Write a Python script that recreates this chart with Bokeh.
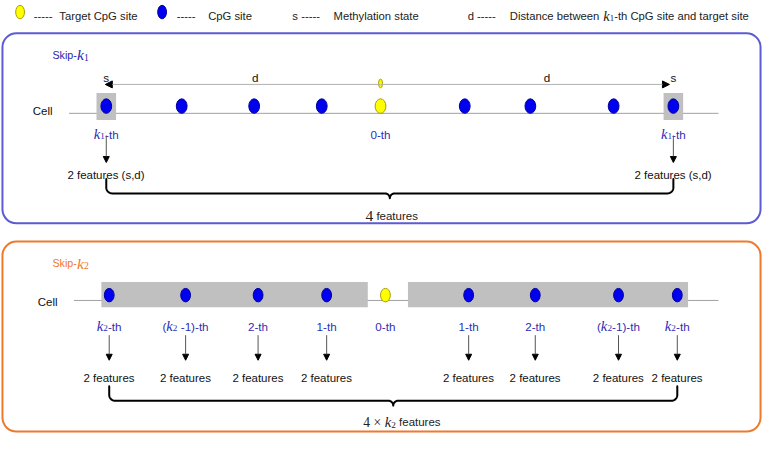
import re
import numpy as np
from bokeh.plotting import figure
from bokeh.models import Range1d, Arrow, NormalHead, ColumnDataSource
from bokeh.core.properties import value
from bokeh.embed import file_html
from bokeh.resources import INLINE

# ---------------- data ----------------
legend_keys = ["-----", "-----", "s -----", "d -----"]
legend_texts = ["Target CpG site", "CpG site", "Methylation state",
                "Distance between {k1}-th CpG site and target site"]

# skip-k1 panel: relative positions of the CpG sites (target site = 0)
k1_site_offsets = [-280, -203, -129, -60, 0, 86, 153, 238, 299]
k1_site_labels = ["{k1}-th", "", "", "", "0-th", "", "", "", "{k1}-th"]
k1_selected = [True, False, False, False, False, False, False, False, True]
k1_site_features = "2 features (s,d)"
k1_total_math = "4"
k1_total_text = "features"

# skip-k2 panel
k2_site_offsets = [-282, -204, -130, -60, 0, 85, 153, 238, 298]
k2_site_labels = ["{k2}-th", "({k2} -1)-th", "2-th", "1-th", "0-th",
                  "1-th", "2-th", "({k2}-1)-th", "{k2}-th"]
k2_site_features = "2 features"
k2_total_math = "4 × {k2}"
k2_total_text = "features"

# ---------------- styles ----------------
SANS = "Liberation Sans"
SERIF = "Liberation Serif"
BLUE_BORDER = "#5b5bd3"
ORANGE = "#ee7a2d"
LABEL_BLUE = "#2d2db4"
DOT_BLUE = "#0000f0"
DOT_BLUE_LINE = "#00009a"
YELLOW = "#ffff00"
YELLOW_LINE = "#a89e00"
GREY_BOX = "#c0c0c0"

REF_W, REF_H = 778, 450
W, H = 762, 434
FS = (W / REF_W + H / REF_H) / 2

p = figure(width=W, height=H, x_range=Range1d(0, REF_W), y_range=Range1d(REF_H, 0),
           output_backend="svg", toolbar_location=None, min_border=0,
           x_axis_location=None, y_axis_location=None)
p.grid.visible = False
p.outline_line_color = None
p.background_fill_color = "white"
p.border_fill_color = "white"

# ---------------- text helpers ----------------
ARIAL = {' ': .278, '-': .333, 't': .278, 'h': .556, '(': .333, ')': .333, 'f': .278,
         'e': .556, 'a': .556, 'u': .556, 'r': .333, 's': .5, 'D': .722, 'i': .222,
         'n': .556, 'c': .5, 'b': .556, 'w': .722, 'C': .722, 'p': .556, 'G': .778,
         'g': .556, 'd': .556, ',': .278, 'S': .667, 'k': .5, 'l': .222, 'M': .833,
         'y': .5, 'o': .556, 'T': .611}
TIMES = {' ': .25, '×': .564, 'k': .444}


def char_w(c, font):
    if font == SANS:
        return ARIAL.get(c, .556)
    return TIMES.get(c, .5)


def text_w(s, font):
    return sum(char_w(c, font) for c in s)


texts = {}


def add_text(x, y, s, font, size, color, style="normal"):
    key = (font, size, color, style)
    d = texts.setdefault(key, dict(x=[], y=[], text=[]))
    d["x"].append(x)
    d["y"].append(y)
    d["text"].append(s)


def segments(s, font, size, mi_size, sub_size, sub_dy):
    segs = []
    pos = 0
    for m in re.finditer(r"\{k(\d)\}", s):
        if m.start() > pos:
            segs.append((s[pos:m.start()], font, size, "normal", 0))
        segs.append(("k", SERIF, mi_size, "italic", 0))
        segs.append((m.group(1), SERIF, sub_size, "normal", sub_dy))
        pos = m.end()
    if pos < len(s):
        segs.append((s[pos:], font, size, "normal", 0))
    return segs


def seg_width(segs):
    return sum(text_w(t, f) * sz for t, f, sz, st, dy in segs)


def rich(x, y, segs, color, align="center"):
    cx = x - seg_width(segs) / 2 if align == "center" else x
    for t, f, sz, st, dy in segs:
        lead = len(t) - len(t.lstrip(" "))
        cx += lead * char_w(" ", f) * sz
        core = t.strip(" ")
        if core:
            add_text(cx, y + dy, core, f, sz, color, st)
        cx += text_w(core, f) * sz
        trail = len(t) - len(t.rstrip(" "))
        if core:
            cx += trail * char_w(" ", f) * sz


def flush_texts():
    for (font, size, color, style), d in texts.items():
        p.text(x="x", y="y", text="text", source=ColumnDataSource(d),
               text_font=value(font), text_font_size=value(f"{size * FS:.2f}px"),
               text_color=color, text_font_style=style,
               text_align="left", text_baseline="alphabetic")


def arrows(x0, y0, x1, y1, line_color="#555555", size=6, both=False):
    src = ColumnDataSource(dict(x0=x0, y0=y0, x1=x1, y1=y1))
    head = lambda: NormalHead(size=size, fill_color="black", line_color="black", line_width=1)
    p.add_layout(Arrow(start=head() if both else None, end=head(),
                       x_start="x0", y_start="y0", x_end="x1", y_end="y1",
                       source=src, line_color=line_color, line_width=1))


def brace(x0, x1, ytop, ymid, ytip, r=6):
    xc = (x0 + x1) / 2
    rc = ytip - ymid
    xs, ys = [x0], [ytop]
    t = np.linspace(np.pi, np.pi / 2, 12)
    xs += list(x0 + r + r * np.cos(t)); ys += list(ymid - r + r * np.sin(t))
    t = np.linspace(-np.pi / 2, 0, 10)
    xs += list(xc - rc + rc * np.cos(t)); ys += list(ymid + rc + rc * np.sin(t))
    t = np.linspace(np.pi, 1.5 * np.pi, 10)
    xs += list(xc + rc + rc * np.cos(t)); ys += list(ymid + rc + rc * np.sin(t))
    t = np.linspace(np.pi / 2, 0, 12)
    xs += list(x1 - r + r * np.cos(t)); ys += list(ymid - r + r * np.sin(t))
    xs.append(x1); ys.append(ytop)
    p.line(xs, ys, line_color="black", line_width=2, line_join="round", line_cap="round")


# ---------------- legend ----------------
p.ellipse(x=[20], y=[12], width=9, height=14, fill_color=YELLOW, line_color=YELLOW_LINE)
p.ellipse(x=[165], y=[12], width=9, height=14, fill_color=DOT_BLUE, line_color=DOT_BLUE_LINE)
LG = 11.6
key_x = [34, 180, 298, 477]
txt_x = [60, 212, 340, 520]
for kx, tx, key, txt in zip(key_x, txt_x, legend_keys, legend_texts):
    rich(kx, 16, [(key, SANS, LG, "normal", 0)], "#222222", align="left")
    rich(tx, 16, segments(txt, SANS, LG, 15, 9, 2.5), "#222222", align="left")

# ---------------- panel k1 ----------------
c1 = 388
x1 = [c1 + o for o in k1_site_offsets]
p.quad(left=[2], right=[776], top=[34], bottom=[231], fill_alpha=0,
       line_color=BLUE_BORDER, line_width=2, border_radius=14)
rich(53, 56.5, segments("Skip-{k1}", SANS, 11, 16, 10, 2.5), "#2626b0", align="left")
rich(33, 115, [("Cell", SANS, 11.8, "normal", 0)], "#111111", align="left")
p.segment(x0=[70], y0=[117], x1=[733], y1=[117], line_color="#a0a0a0", line_width=1)
sel1 = [x for x, s in zip(x1, k1_selected) if s]
p.rect(x=sel1, y=110, width=20, height=28, fill_color=GREY_BOX, line_color=None)
cols1 = [YELLOW if o == 0 else DOT_BLUE for o in k1_site_offsets]
lcols1 = [YELLOW_LINE if o == 0 else DOT_BLUE_LINE for o in k1_site_offsets]
p.ellipse(x=x1, y=109.5, width=11, height=15, fill_color=cols1, line_color=lcols1)
for x, lab in zip(x1, k1_site_labels):
    if lab:
        rich(x, 138.5, segments(lab, SANS, 12, 15, 9.5, 2.5), LABEL_BLUE)
# distance arrow and markers
arrows([c1, c1], [87, 87], [sel1[0] - 1, sel1[1] - 4], [87, 87], line_color="#b0b0b0", size=7)
p.ellipse(x=[c1], y=[86], width=4, height=9, fill_color=YELLOW, line_color=YELLOW_LINE)
for x in sel1:
    rich(x, 80, [("s", SANS, 12, "normal", 0)], "#111111")
rich(260, 80, [("d", SANS, 12, "normal", 0)], "#111111")
rich(558, 80, [("d", SANS, 12, "normal", 0)], "#111111")
arrows(sel1, [140] * 2, sel1, [168] * 2)
for x in sel1:
    rich(x, 181, [(k1_site_features, SANS, 11.8, "normal", 0)], "#111111")
brace(sel1[0], sel1[1], 185, 200, 205)
bc1 = (sel1[0] + sel1[1]) / 2
rich(bc1 + 2, 223.5, segments(k1_total_math, SERIF, 16, 16, 10, 2.5) +
     [(" " + k1_total_text, SANS, 11.8, "normal", 0)], "#222222")

# ---------------- panel k2 ----------------
c2 = 393
x2 = [c2 + o for o in k2_site_offsets]
p.quad(left=[2], right=[776], top=[250], bottom=[447], fill_alpha=0,
       line_color=ORANGE, line_width=2, border_radius=14)
rich(53, 272.5, segments("Skip-{k2}", SANS, 11, 16, 10, 2.5), ORANGE, align="left")
rich(38, 313, [("Cell", SANS, 11.8, "normal", 0)], "#111111", align="left")
p.segment(x0=[75], y0=[311], x1=[733], y1=[311], line_color="#a0a0a0", line_width=1)
p.quad(left=[x2[0] - 8, x2[5] - 62], right=[x2[3] + 42, x2[8] + 11], top=[292, 292],
       bottom=[318, 318], fill_color=GREY_BOX, line_color=None)
cols2 = [YELLOW if o == 0 else DOT_BLUE for o in k2_site_offsets]
lcols2 = [YELLOW_LINE if o == 0 else DOT_BLUE_LINE for o in k2_site_offsets]
p.ellipse(x=x2, y=305.5, width=10, height=14, fill_color=cols2, line_color=lcols2)
for x, lab in zip(x2, k2_site_labels):
    rich(x, 337.5, segments(lab, SANS, 12, 15, 9.5, 2.5), LABEL_BLUE)
sel2 = [x for x, o in zip(x2, k2_site_offsets) if o != 0]
arrows(sel2, [347] * len(sel2), sel2, [373] * len(sel2))
for x in sel2:
    rich(x, 391, [(k2_site_features, SANS, 11.8, "normal", 0)], "#111111")
brace(x2[0], x2[-1], 400, 415, 420)
bc2 = (x2[0] + x2[-1]) / 2
rich(bc2 + 9, 437.5, segments(k2_total_math, SERIF, 14, 15, 9.5, 2.5) +
     [(" " + k2_total_text, SANS, 11.8, "normal", 0)], "#222222")

flush_texts()

open("out.html", "w").write(file_html(p, INLINE))
